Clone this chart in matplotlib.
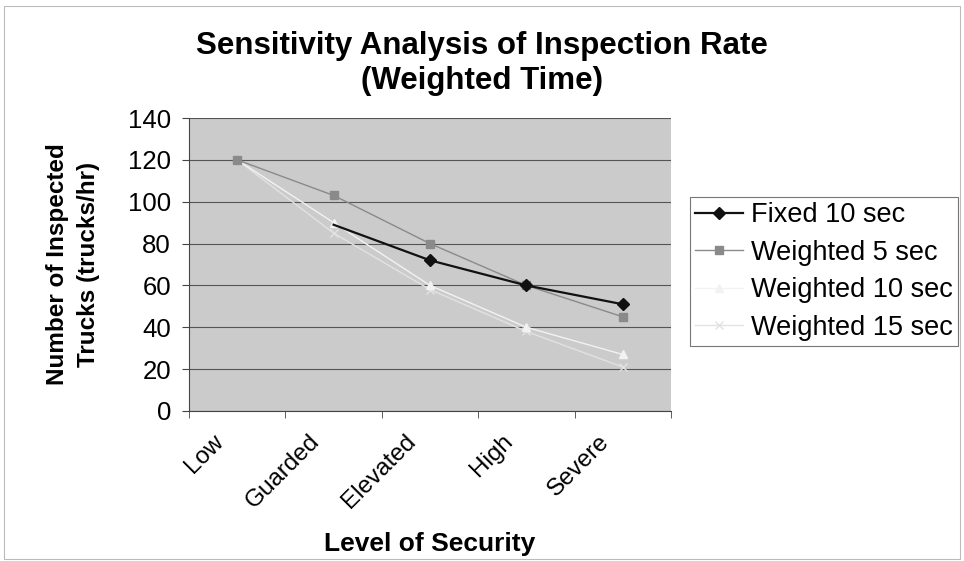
import numpy as np
import matplotlib
matplotlib.use("Agg")
import matplotlib.pyplot as plt
from matplotlib.transforms import ScaledTranslation

categories = ["Low", "Guarded", "Elevated", "High", "Severe"]
fixed_10 = [np.nan, 89, 72, 60, 51]
weighted_5 = [120, 103, 80, 60, 45]
weighted_10 = [120, 90, 60, 40, 27]
weighted_15 = [120, 85, 58, 38, 21]
yticks = [0, 20, 40, 60, 80, 100, 120, 140]

plt.rcParams['font.family'] = ['Liberation Sans', 'DejaVu Sans']

fig = plt.figure(figsize=(9.64, 5.61), dpi=100)
ax = fig.add_axes([189/964, 1-411/561, (671-189)/964, (411-118)/561])
ax.set_facecolor('#cbcbcb')

x = np.arange(len(categories))
ax.plot(x, weighted_15, color='#e2e2e2', lw=1.0, marker='x', ms=6, mew=1, zorder=3, label='Weighted 15 sec')
ax.plot(x, weighted_10, color='#f2f2f2', lw=1.0, marker='^', ms=6, zorder=3, label='Weighted 10 sec')
ax.plot(x, weighted_5, color='#8a8a8a', lw=1.0, marker='s', ms=6, zorder=4, label='Weighted 5 sec')
ax.plot(x, fixed_10, color='#111111', lw=1.6, marker='D', ms=6, markevery=[2, 3, 4], zorder=5, label='Fixed 10 sec')

ax.set_xlim(-0.5, len(categories) - 0.5)
ax.set_ylim(0, 140)
ax.set_yticks(yticks)
ax.set_yticklabels([str(v) for v in yticks], fontsize=18.5)
ax.yaxis.grid(True, color='#555555', lw=0.8)
ax.set_axisbelow(True)

ax.set_xticks(x)
ax.set_xticklabels(categories, rotation=45, ha='right', rotation_mode='anchor', fontsize=17.5)
ax.tick_params(axis='x', which='major', length=0, pad=14)
shift = ScaledTranslation(-25/100, 0, fig.dpi_scale_trans)
for lbl in ax.get_xticklabels():
    lbl.set_transform(lbl.get_transform() + shift)
ax.set_xticks(np.arange(-0.5, len(categories) + 0.5, 1), minor=True)
ax.tick_params(axis='x', which='minor', length=5, direction='out', color='#444444')
ax.tick_params(axis='y', length=5, direction='out', color='#444444', pad=8)

for s in ['top', 'right']:
    ax.spines[s].set_visible(False)
for s in ['left', 'bottom']:
    ax.spines[s].set_color('#444444')
    ax.spines[s].set_linewidth(0.8)

ax.set_ylabel("Number of Inspected\nTrucks (trucks/hr)", fontsize=17.5, fontweight='bold', labelpad=20,
              linespacing=1.45)
ax.set_xlabel("Level of Security", fontsize=19, fontweight='bold', labelpad=14)

fig.text(0.5, 0.887, "Sensitivity Analysis of Inspection Rate\n(Weighted Time)", ha='center', va='center',
         fontsize=22.5, fontweight='bold', linespacing=1.25)

handles, labels = ax.get_legend_handles_labels()
order = [3, 2, 1, 0]
leg = fig.legend([handles[i] for i in order], [labels[i] for i in order],
                 loc='upper left', bbox_to_anchor=(690/964, 1-197/561), fontsize=19.5,
                 frameon=True, fancybox=False, edgecolor='#555555', handlelength=1.75,
                 borderpad=0.2, labelspacing=0.42, handletextpad=0.3, borderaxespad=0)
leg.get_frame().set_linewidth(0.8)

fig.patches.append(plt.Rectangle((0.004, 0.004), 0.992, 0.985, transform=fig.transFigure,
                                 fill=False, edgecolor='#bbbbbb', lw=0.8))

fig.savefig("out.png", dpi=100)
